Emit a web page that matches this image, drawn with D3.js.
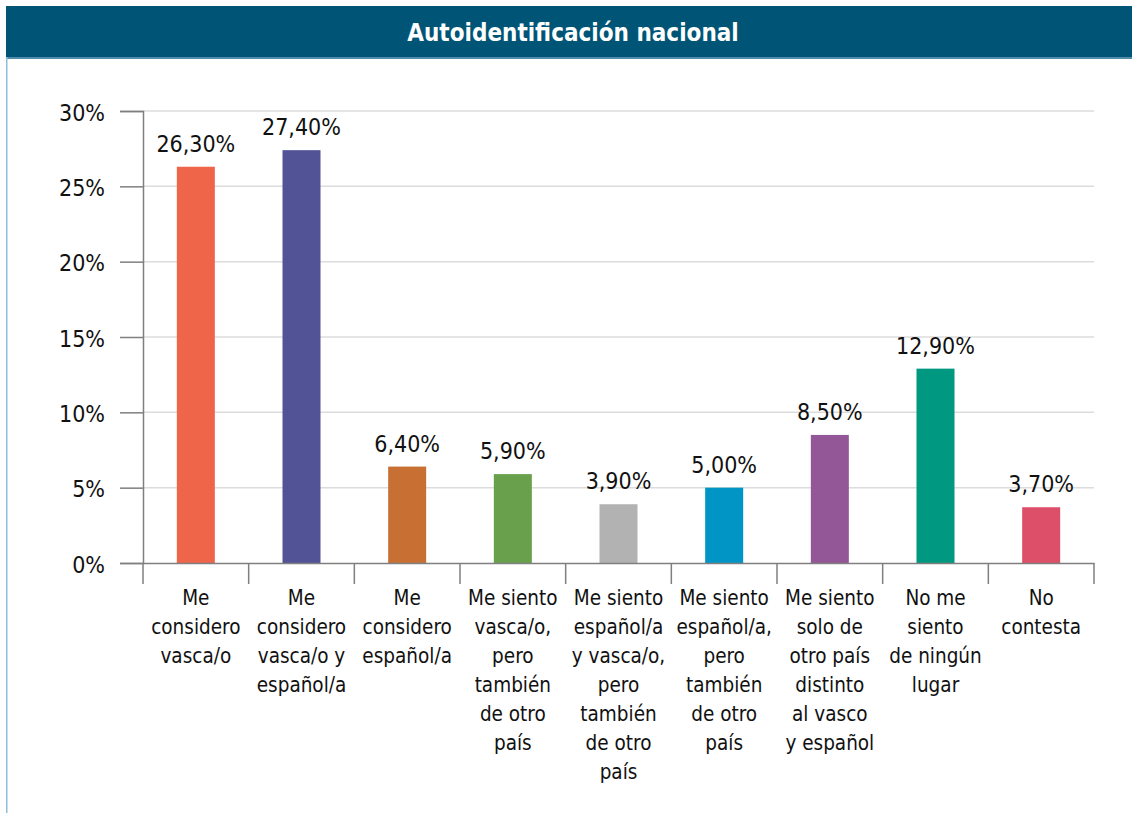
<!DOCTYPE html>
<html>
<head>
<meta charset="utf-8">
<script src="https://cdn.jsdelivr.net/npm/d3@7"></script>
<style>
  html, body { margin: 0; padding: 0; background: #fff; }
  svg { display: block; }
  text { font-family: "DejaVu Sans Condensed", "Open Sans", sans-serif; }
</style>
</head>
<body>
<svg id="chart" width="1132" height="813"></svg>
<script>
// Chart title
const title = "Autoidentificación nacional";

// Categories, each as a list of wrapped label lines
const categories = [
  ["Me", "considero", "vasca/o"],
  ["Me", "considero", "vasca/o y", "español/a"],
  ["Me", "considero", "español/a"],
  ["Me siento", "vasca/o,", "pero", "también", "de otro", "país"],
  ["Me siento", "español/a", "y vasca/o,", "pero", "también", "de otro", "país"],
  ["Me siento", "español/a,", "pero", "también", "de otro", "país"],
  ["Me siento", "solo de", "otro país", "distinto", "al vasco", "y español"],
  ["No me", "siento", "de ningún", "lugar"],
  ["No", "contesta"]
];

// Percentage per category
const values = [26.3, 27.4, 6.4, 5.9, 3.9, 5.0, 8.5, 12.9, 3.7];

// Bar colours per category
const colors = ["#EE654A", "#525396", "#C87034", "#68A04C", "#B2B2B2", "#0095C4", "#935697", "#009880", "#DD4E69"];

// Y-axis ticks
const yTicks = [0, 5, 10, 15, 20, 25, 30];

const svg = d3.select("#chart");
const W = 1132, H = 813;

// Header band
svg.append("rect").attr("x", 6).attr("y", 6).attr("width", W - 6).attr("height", 51).attr("fill", "#005577");
svg.append("rect").attr("x", 6).attr("y", 57).attr("width", W - 6).attr("height", 2).attr("fill", "#4f8cab");
svg.append("text")
  .attr("x", 573).attr("y", 41)
  .attr("text-anchor", "middle")
  .attr("fill", "#fff")
  .attr("font-size", 24)
  .attr("font-weight", "bold")
  .text(title);

// Left frame line
svg.append("rect").attr("x", 6).attr("y", 57).attr("width", 1.5).attr("height", H - 57).attr("fill", "#8dbfdc");

const plotL = 143, plotR = 1094, plotT = 111, plotB = 563;

const x = d3.scaleBand().domain(d3.range(categories.length)).range([plotL, plotR]).paddingInner(0).paddingOuter(0);
const y = d3.scaleLinear().domain([0, 30]).range([plotB, plotT]);

// Gridlines
svg.append("g")
  .selectAll("line")
  .data(yTicks.filter(d => d > 0))
  .join("line")
  .attr("x1", plotL).attr("x2", plotR)
  .attr("y1", d => y(d)).attr("y2", d => y(d))
  .attr("stroke", "#dcdcdc").attr("stroke-width", 1.5);

// Y axis
const yAxis = d3.axisLeft(y).tickValues(yTicks).tickSize(23).tickFormat(d => d + "%").tickPadding(15);
const gy = svg.append("g").attr("transform", `translate(${plotL},0)`).call(yAxis);
gy.select(".domain").attr("stroke", "#7f7f7f").attr("stroke-width", 1.5);
gy.selectAll(".tick line").attr("stroke", "#7f7f7f").attr("stroke-width", 1.5);
gy.selectAll(".tick text").attr("font-size", 23).attr("font-family", "DejaVu Sans Condensed, sans-serif").attr("fill", "#111").attr("dy", "0.4em");

// Bars
const barW = 38;
svg.append("g")
  .selectAll("rect")
  .data(values)
  .join("rect")
  .attr("x", (d, i) => x(i) + x.bandwidth() / 2 - barW / 2)
  .attr("y", d => y(d))
  .attr("width", barW)
  .attr("height", d => plotB - y(d))
  .attr("fill", (d, i) => colors[i]);

// Value labels
const fmt = d => d3.format(".2f")(d).replace(".", ",") + "%";
svg.append("g")
  .selectAll("text")
  .data(values)
  .join("text")
  .attr("x", (d, i) => x(i) + x.bandwidth() / 2)
  .attr("y", d => y(d) - 15)
  .attr("text-anchor", "middle")
  .attr("font-size", 23)
  .attr("fill", "#111")
  .text(fmt);

// X axis baseline and category separators
const xAxis = d3.axisBottom(x).tickValues([]).tickSizeOuter(0);
const gx = svg.append("g").attr("transform", `translate(0,${plotB})`).call(xAxis);
gx.select(".domain").attr("stroke", "#7f7f7f").attr("stroke-width", 1.5);
const bounds = d3.range(categories.length + 1).map(i => i < categories.length ? x(i) : x(i - 1) + x.bandwidth());
gx.selectAll("line.sep")
  .data(bounds)
  .join("line")
  .attr("class", "sep")
  .attr("x1", d => d).attr("x2", d => d)
  .attr("y1", 0).attr("y2", 21)
  .attr("stroke", "#7f7f7f").attr("stroke-width", 1.5);

// Category labels
const lab = svg.append("g")
  .selectAll("text")
  .data(categories)
  .join("text")
  .attr("x", (d, i) => x(i) + x.bandwidth() / 2)
  .attr("y", 605)
  .attr("text-anchor", "middle")
  .attr("font-size", 20.5)
  .attr("fill", "#111");
lab.selectAll("tspan")
  .data(d => d)
  .join("tspan")
  .attr("x", function () { return d3.select(this.parentNode).attr("x"); })
  .attr("dy", (d, j) => j === 0 ? 0 : 29)
  .text(d => d);
</script>
</body>
</html>
